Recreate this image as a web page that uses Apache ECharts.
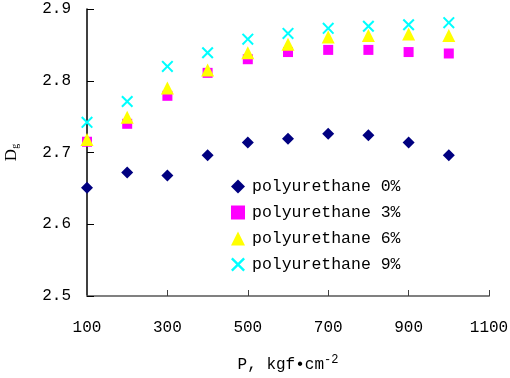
<!DOCTYPE html>
<html>
<head>
<meta charset="utf-8">
<script src="https://cdn.jsdelivr.net/npm/echarts@6/dist/echarts.min.js"></script>
<style>html,body{margin:0;padding:0;background:#fff}#c{width:510px;height:378px}</style>
</head>
<body>
<div id="c"></div>
<script>
var pressures = [100, 200, 300, 400, 500, 600, 700, 800, 900, 1000];
var pu0 = [2.651, 2.672, 2.668, 2.696, 2.714, 2.719, 2.726, 2.724, 2.714, 2.696];
var pu3 = [2.715, 2.740, 2.779, 2.811, 2.830, 2.840, 2.843, 2.843, 2.840, 2.838];
var pu6 = [2.718, 2.749, 2.790, 2.815, 2.839, 2.851, 2.861, 2.863, 2.865, 2.863];
var pu9 = [2.742, 2.771, 2.820, 2.839, 2.858, 2.866, 2.873, 2.876, 2.878, 2.881];
var seriesNames = ['polyurethane 0%', 'polyurethane 3%', 'polyurethane 6%', 'polyurethane 9%'];
var xTicks = [100, 300, 500, 700, 900, 1100];
var yTicks = [2.5, 2.6, 2.7, 2.8, 2.9];

var FONT = 'Liberation Mono';
var crossPath = 'path://M0,1.2L1.2,0L5,3.8L8.8,0L10,1.2L6.2,5L10,8.8L8.8,10L5,6.2L1.2,10L0,8.8L3.8,5Z';

function pairs(vals) { return pressures.map(function (p, i) { return [p, vals[i]]; }); }

var chart = echarts.init(document.getElementById('c'), null, { renderer: 'canvas' });
chart.setOption({
  backgroundColor: '#fff',
  animation: false,
  grid: { left: 87, right: 21, top: 9, bottom: 82, containLabel: false, outerBoundsMode: 'none' },
  legend: {
    orient: 'vertical',
    left: 226,
    top: 173,
    itemGap: 9,
    itemWidth: 14,
    itemHeight: 14,
    textStyle: { fontFamily: FONT, fontSize: 16.5, color: '#000', padding: [0, 0, 0, 2] },
    data: [
      { name: seriesNames[0], icon: 'diamond' },
      { name: seriesNames[1], icon: 'rect' },
      { name: seriesNames[2], icon: 'triangle' },
      { name: seriesNames[3], icon: crossPath }
    ]
  },
  xAxis: {
    type: 'value',
    min: 100, max: 1100,
    name: 'P, kgf•cm{sup|-2}',
    nameLocation: 'middle',
    nameGap: 58,
    nameTextStyle: {
      fontFamily: FONT, fontSize: 16, color: '#000',
      rich: { sup: { fontFamily: FONT, fontSize: 12, color: '#000', verticalAlign: 'top', padding: [0, 0, 10, 0] } }
    },
    axisLine: { onZero: false, lineStyle: { color: '#808080', width: 2 } },
    axisTick: { inside: true, length: 6, customValues: xTicks, lineStyle: { color: '#404040', width: 1 } },
    axisLabel: {
      customValues: xTicks, margin: 24, fontFamily: FONT, fontSize: 16, color: '#000',
      formatter: function (v) { return String(v); }
    },
    splitLine: { show: false }
  },
  yAxis: {
    type: 'value',
    min: 2.5, max: 2.9,
    name: 'D{sub|g}',
    nameLocation: 'middle',
    nameRotate: 90,
    nameGap: 67,
    nameTextStyle: {
      fontFamily: 'Liberation Serif', fontSize: 17, color: '#000',
      rich: { sub: { fontFamily: 'Liberation Serif', fontSize: 10, color: '#000', verticalAlign: 'bottom', padding: [6, 0, 0, 0] } }
    },
    axisLine: { show: true, onZero: false, lineStyle: { color: '#000', width: 1.5 } },
    axisTick: { show: true, inside: true, length: 7, customValues: yTicks, lineStyle: { color: '#000', width: 1 } },
    axisLabel: {
      customValues: yTicks, margin: 16, fontFamily: FONT, fontSize: 16, color: '#000',
      formatter: function (v) { return v.toFixed(1); }
    },
    splitLine: { show: false }
  },
  series: [
    { name: seriesNames[0], type: 'scatter', symbol: 'diamond', symbolSize: 12, itemStyle: { color: '#000080', opacity: 1 }, data: pairs(pu0) },
    { name: seriesNames[1], type: 'scatter', symbol: 'rect', symbolSize: 10, itemStyle: { color: '#ff00ff', opacity: 1 }, data: pairs(pu3) },
    { name: seriesNames[2], type: 'scatter', symbol: 'triangle', symbolSize: 13, itemStyle: { color: '#ffff00', opacity: 1 }, data: pairs(pu6) },
    { name: seriesNames[3], type: 'scatter', symbol: crossPath, symbolSize: 12, itemStyle: { color: '#00ffff', opacity: 1 }, data: pairs(pu9) }
  ]
});
</script>
</body>
</html>
